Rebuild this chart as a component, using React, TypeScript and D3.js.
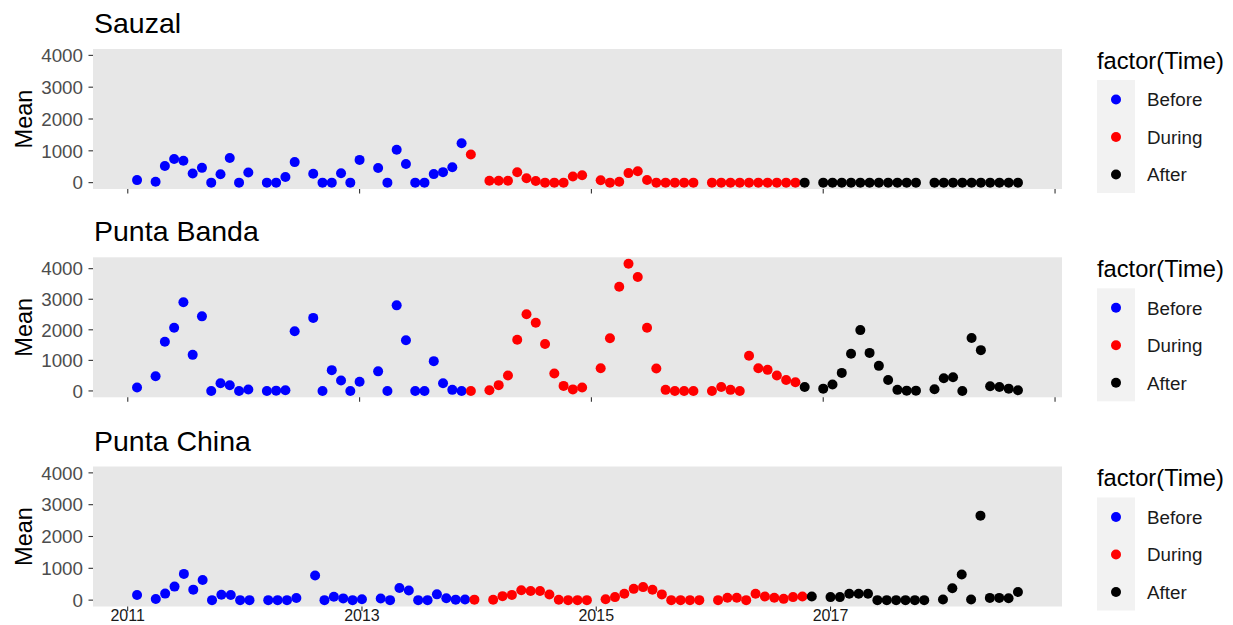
import React from "react";
import * as d3 from "d3";

// ---- Data ----
const siteNames = ["Sauzal", "Punta Banda", "Punta China"];
const phaseLabels = ["Before", "During", "After"];
const phaseColors = ["#0000FF", "#FF0000", "#000000"];
// first sampling slot of each phase
const phaseStart = [1, 37, 73];
const yTicks = [0, 1000, 2000, 3000, 4000];
const xTickSlots = [0, 25, 50, 75, 100];
const xTickLabels = ["2011", "2013", "2015", "2017", "2019"];

// sampling slots (ordered time index) for each site
const slotsLong = [
  1, 3, 4, 5, 6, 7, 8, 9, 10, 11, 12, 13, 15, 16, 17, 18, 20, 21, 22, 23, 24, 25,
  27, 28, 29, 30, 31, 32, 33, 34, 35, 36, 37, 39, 40, 41, 42, 43, 44, 45, 46, 47, 48, 49,
  51, 52, 53, 54, 55, 56, 57, 58, 59, 60, 61, 63, 64, 65, 66, 67, 68, 69, 70, 71, 72, 73,
  75, 76, 77, 78, 79, 80, 81, 82, 83, 84, 85, 87, 88, 89, 90, 91, 92, 93, 94, 95, 96,
];
const slotsShort = [
  1, 3, 4, 5, 6, 7, 8, 9, 10, 11, 12, 13, 15, 16, 17, 18, 20, 21, 22, 23, 24, 25,
  27, 28, 29, 30, 31, 32, 33, 34, 35, 36, 37, 39, 40, 41, 42, 43, 44, 45, 46, 47, 48, 49,
  51, 52, 53, 54, 55, 56, 57, 58, 59, 60, 61, 63, 64, 65, 66, 67, 68, 69, 70, 71, 72, 73,
  75, 76, 77, 78, 79, 80, 81, 82, 83, 84, 85, 87, 88, 89, 90, 91, 92, 93, 94, 95,
];

const sauzalMean = [
  80, 30, 525, 745, 690, 285, 465, 0, 262, 775, 0, 320, 0, 0, 175, 645, 280, 0, 0, 295, 0, 715,
  460, 0, 1035, 585, 0, 0, 268, 330, 485, 1240, 882, 58, 58, 58, 326, 138, 50, 0, 0, 0, 195, 230,
  75, 0, 30, 300, 360, 85, 0, 0, 0, 0, 0, 0, 0, 0, 0, 0, 0, 0, 0, 0, 0, 0,
  0, 0, 0, 0, 0, 0, 0, 0, 0, 0, 0, 0, 0, 0, 0, 0, 0, 0, 0, 0, 0,
];
const puntaBandaMean = [
  110, 480, 1610, 2070, 2900, 1180, 2440, 0, 250, 185, 0, 45, 0, 10, 20, 1950, 2390, 0, 680, 340, 0, 300,
  640, 0, 2800, 1660, 0, 0, 975, 250, 35, 0, 0, 25, 190, 505, 1675, 2510, 2230, 1535, 570, 165, 50, 110,
  745, 1725, 3410, 4160, 3730, 2070, 735, 35, 0, 0, 0, 0, 130, 35, 0, 1150, 745, 690, 505, 360, 285, 130,
  75, 210, 590, 1215, 1990, 1245, 820, 360, 35, 10, 10, 55, 415, 450, 0, 1730, 1335, 155, 130, 75, 20,
];
const puntaChinaMean = [
  160, 35, 205, 425, 825, 330, 635, 0, 172, 162, 0, 0, 0, 0, 0, 68, 775, 0, 105, 55, 0, 30,
  50, 0, 380, 305, 0, 0, 182, 62, 15, 20, 15, 12, 125, 165, 310, 285, 285, 175, 12, 0, 0, 0,
  30, 95, 200, 355, 410, 325, 180, 0, 0, 0, 0, 0, 75, 75, 0, 200, 115, 75, 40, 95, 115, 115,
  95, 95, 200, 200, 200, 0, 0, 0, 0, 0, 0, 20, 375, 805, 20, 2655, 70, 70, 60, 255,
];

const siteSlots = [slotsLong, slotsLong, slotsShort];
const siteValues = [sauzalMean, puntaBandaMean, puntaChinaMean];
// upper end of each site's value range used by its y axis
const siteYMax = [4000, 4164, 4000];

// ---- Layout ----
const W = 1233;
const H = 625;
const FONT = "'Liberation Sans', Arial, Helvetica, sans-serif";
const plotLeft = 93;
const plotRight = 1062;
const panelTops = [49, 257.3, 466.5];
const panelH = 140;

function phaseOf(slot: number): number {
  let p = 0;
  phaseStart.forEach((s, i) => {
    if (slot >= s) p = i;
  });
  return p;
}

function Panel({ idx }: { idx: number }) {
  const top = panelTops[idx];
  const bottom = top + panelH;
  const slots = siteSlots[idx];
  const vals = siteValues[idx];
  const [xmin, xmax] = d3.extent(slots) as [number, number];
  const xpad = (xmax - xmin) * 0.05;
  const x = d3.scaleLinear().domain([xmin - xpad, xmax + xpad]).range([plotLeft, plotRight]);
  const ymaxv = siteYMax[idx];
  const ypad = ymaxv * 0.05;
  const y = d3.scaleLinear().domain([-ypad, ymaxv + ypad]).range([bottom, top]);
  const isBottom = idx === siteNames.length - 1;
  const xticks = xTickSlots
    .map((s, i) => ({ s, label: xTickLabels[i] }))
    .filter((t) => t.s >= xmin - xpad && t.s <= xmax + xpad);

  return (
    <g>
      <text x={94} y={top - 16} fontSize={28.5} fontFamily={FONT} fill="#000">
        {siteNames[idx]}
      </text>
      <rect x={plotLeft} y={top} width={plotRight - plotLeft} height={panelH} fill="#E7E7E7" />
      {yTicks.map((t) => (
        <g key={t}>
          <line x1={88.5} x2={plotLeft} y1={y(t)} y2={y(t)} stroke="#333" strokeWidth={1.1} />
          <text
            x={83}
            y={y(t)}
            dy="0.36em"
            textAnchor="end"
            fontSize={18.8}
            fontFamily={FONT}
            fill="#4D4D4D"
          >
            {t}
          </text>
        </g>
      ))}
      {xticks.map((t) => (
        <g key={t.s}>
          <line x1={x(t.s)} x2={x(t.s)} y1={bottom} y2={bottom + 4.5} stroke="#333" strokeWidth={1.1} />
          {isBottom && (
            <text
              x={x(t.s)}
              y={621}
              textAnchor="middle"
              fontSize={16}
              fontFamily={FONT}
              fill="#1a1a1a"
            >
              {t.label}
            </text>
          )}
        </g>
      ))}
      <text
        transform={`translate(31.5,${(top + bottom) / 2}) rotate(-90)`}
        textAnchor="middle"
        fontSize={23.5}
        fontFamily={FONT}
        fill="#000"
      >
        Mean
      </text>
      {slots.map((s, i) => (
        <circle key={i} cx={x(s)} cy={y(vals[i])} r={5} fill={phaseColors[phaseOf(s)]} />
      ))}
      {/* legend */}
      <text x={1097} y={top + 19.5} fontSize={23.7} fontFamily={FONT} fill="#000">
        factor(Time)
      </text>
      <rect x={1097} y={top + 31} width={38} height={113} fill="#F2F2F2" />
      {phaseLabels.map((lab, i) => {
        const cy = top + 50.5 + i * 37.5;
        return (
          <g key={lab}>
            <circle cx={1116} cy={cy} r={5} fill={phaseColors[i]} />
            <text x={1147} y={cy} dy="0.36em" fontSize={18.8} fontFamily={FONT} fill="#1a1a1a">
              {lab}
            </text>
          </g>
        );
      })}
    </g>
  );
}

export default function App() {
  return (
    <svg
      width={W}
      height={H}
      style={{ position: "absolute", left: 0, top: 0, background: "#fff" }}
    >
      <rect x={0} y={0} width={W} height={H} fill="#fff" />
      {siteNames.map((_, i) => (
        <Panel key={i} idx={i} />
      ))}
    </svg>
  );
}
